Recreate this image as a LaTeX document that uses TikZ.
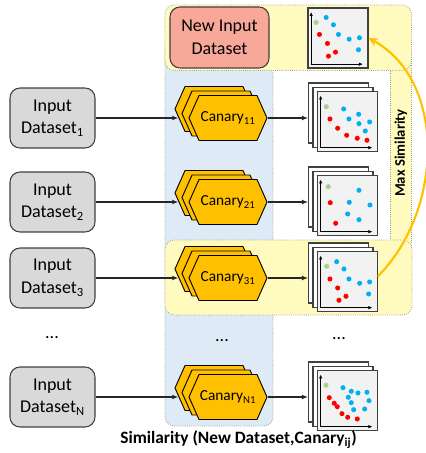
\documentclass[tikz,border=0pt]{standalone}
\usepackage{fontspec}
\setmainfont{Carlito}
\usetikzlibrary{shapes.symbols,arrows.meta,calc}

\definecolor{hexfill}{HTML}{FFC000}
\definecolor{yellowfill}{HTML}{FFFABE}
\definecolor{bluefill}{HTML}{DEEBF7}
\definecolor{salmon}{HTML}{F8A898}
\definecolor{boxgray}{HTML}{D9D9D9}
\definecolor{panelgray}{HTML}{F2F2F2}
\definecolor{edgegray}{HTML}{404040}
\definecolor{dotblue}{HTML}{00B0F0}
\definecolor{dotred}{HTML}{FF0000}
\definecolor{dotgreen}{HTML}{A9D18E}

% scatter dots of one plot: #1 panel node, #2 green, #3 blue, #4 red (x/y offsets from the top left corner)
\newcommand\plotdots[4]{%
  \begin{scope}[shift={(#1.north west)}]
    \draw[axis] (3.7,57) -- (3.7,4.5);
    \draw[axis] (3.2,56.7) -- (55.5,56.7);
    \foreach \a/\b in {#2} \fill[dotgreen] (\a,\b) circle (1.9pt);
    \foreach \a/\b in {#3} \fill[dotblue] (\a,\b) circle (1.9pt);
    \foreach \a/\b in {#4} \fill[dotred] (\a,\b) circle (1.9pt);
  \end{scope}}

\begin{document}
\begin{tikzpicture}[x=0.75pt,y=-0.75pt,
  group/.style={draw=gray!75, densely dotted, line width=0.6pt, rounded corners=7pt},
  inbox/.style={draw=edgegray, line width=0.8pt, fill=boxgray, rounded corners=7.5pt,
    minimum width=63.75pt, minimum height=45pt, align=center, inner sep=0pt,
    font=\fontsize{13.5}{17}\selectfont},
  newbox/.style={inbox, fill=salmon, minimum width=74.25pt, minimum height=45.75pt},
  hexa/.style={signal, signal to=east and west, signal pointer angle=132,
    draw=black, line width=0.7pt, fill=hexfill, minimum width=58.5pt,
    minimum height=33.75pt, inner sep=0pt, font=\fontsize{11.5}{13}\selectfont},
  panel/.style={draw=edgegray, line width=0.8pt, fill=white, minimum width=45pt,
    minimum height=45pt, inner sep=0pt},
  flow/.style={draw=black!85, line width=0.8pt, -{Latex[length=4.5pt,width=3.6pt]}},
  axis/.style={draw=black, line width=0.6pt, -{Latex[length=3pt,width=2.6pt]}},
  maxarrow/.style={draw=hexfill, line width=1.6pt, -{Stealth[length=7pt,width=6.5pt]}},
  ell/.style={font=\fontsize{13.5}{16}\selectfont, inner sep=0pt}
]
\useasboundingbox (0,0) rectangle (425,453);

% grouping areas
\draw[group, fill=bluefill] (165,40) rectangle (273,426);
\draw[group, fill=yellowfill, rounded corners=0pt] (390,50) rectangle (411.5,250);
\draw[group, fill=yellowfill] (165,5) rectangle (411.5,70.5);
\draw[group, fill=yellowfill] (165,240) rectangle (412,315);

\node[rotate=90, font=\fontsize{11}{13}\selectfont\bfseries] (maxlbl) at (401,153) {Max Similarity};

% new dataset and its plot
\node[newbox] (new) at (219.5,37.5) {New Input\\Dataset};
\node[panel, fill=panelgray] (tp) at (338,38) {};
\plotdots{tp}{8.7/15}{18.7/10, 26/17.3, 31/27, 41.7/31.7, 52/30.3, 51/42.3}{12/27, 20/36, 28/44.7, 21/48.7}

% one row per input dataset
\foreach \i/\y/\s in {1/118/11, 2/202/21, 3/278/31, N/397/N1}{
  \node[inbox] (in\i) at (52.5,\y) {Input\\Dataset\textsubscript{\i}};
  \node[hexa] (hc\i) at (214,\y-9) {};
  \node[hexa] (hb\i) at (221,\y-4.5) {};
  \node[hexa] (ha\i) at (228,\y) {Canary\textsubscript{\s}};
  \node[panel] (pc\i) at (338.5,\y-5) {};
  \node[panel] (pb\i) at (343,\y-0.75) {};
  \node[panel, fill=panelgray] (pa\i) at (347.5,\y+3.5) {};
  \draw[flow] (in\i) -- ($(in\i -| hc\i.west)+(3.8,0)$);
  \draw[flow] (ha\i.east) -- (ha\i.east -| pc\i.west);
}

\plotdots{pa1}{9.3/15.7}{26.7/18, 41.7/23.3, 32/28, 42/32.7, 52.7/31, 48.3/40}{13/28, 20.7/37.3, 29.7/44.3, 40.3/47.3, 50/49.3}
\plotdots{pa2}{11.3/11.7}{42/15.3, 32.3/27.3, 53/30, 30.7/39, 42/44.7}{13.3/27.7, 18.7/48.3}
\plotdots{pa3}{9.7/15.3}{19.7/10.7, 27/18, 32/28, 42.7/32.3, 52.7/31, 51.7/43}{13/28, 20.7/37, 29/45.3, 22/49.3}
\plotdots{paN}{9/15.3}{26/17.7, 34.3/21.3, 41/23, 50/22.3, 31.3/27.3, 34.3/32.7, 52/30.7, 36.7/39.7, 47.7/39}{12.3/27.7, 17.3/33.3, 20.3/36.7, 25/43.7, 30.7/47.3, 40.3/49}

% omitted rows
\node[ell] (e1) at (52,338) {...};
\node[ell] (e2) at (222,341) {...};
\node[ell] (e3) at (339,339) {...};

% best match fed back to the new dataset
\draw[maxarrow] (pa3.10) .. controls (443,211) and (447,81) .. (tp.east);

\node[font=\fontsize{13}{15}\selectfont\bfseries] (caption) at (238.5,440)
  {Similarity (New Dataset,Canary\textsubscript{ij})};
\end{tikzpicture}
\end{document}
